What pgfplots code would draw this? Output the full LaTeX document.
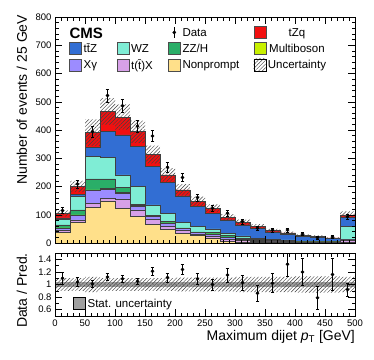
\documentclass[border=0pt]{standalone}
\usepackage{fontspec}
\setmainfont{Liberation Sans}
\usepackage{pgfplots}
\pgfplotsset{compat=1.18}
\usetikzlibrary{patterns.meta}

\definecolor{tzqred}{HTML}{F21010}
\definecolor{ttzblue}{HTML}{326ED3}
\definecolor{wzteal}{HTML}{7FEDD5}
\definecolor{zzgreen}{HTML}{2AAE68}
\definecolor{multib}{HTML}{C8F000}
\definecolor{xgam}{HTML}{9C8CFF}
\definecolor{ttx}{HTML}{D7A0E8}
\definecolor{nonpr}{HTML}{FFE08A}

\pgfplotsset{
  cmsax/.style={scale only axis, width=300pt, xmin=0, xmax=500,
    xtick distance=50, minor x tick num=4,
    major tick length=7pt, minor tick length=3.5pt,
    tick style={black, line width=0.5pt},
    axis line style={black, line width=0.6pt},
    tick label style={font=\fontsize{9.5}{10}\selectfont},
    /pgf/number format/assume math mode=true,
    label style={font=\fontsize{14}{14}\selectfont, inner sep=0pt},
    axis on top},
  stk/.style={const plot, draw=black!75, line width=0.5pt, fill=#1, forget plot},
  boxlegend/.style={legend image code/.code={\draw[##1] (0pt,-5.5pt) rectangle (12pt,6.5pt);}},
  nolegend/.style={legend image code/.code={\path[draw=none, fill=none] (0pt,-5.5pt) rectangle (12pt,6.5pt);}},
  hatch/.style={draw=none, forget plot, pattern={Lines[angle=45,distance=2.6pt,line width=0.45pt]}, pattern color=black!75},
}

\begin{document}
\begin{tikzpicture}
\path[use as bounding box] (0,0) rectangle (374pt,-359pt);

% ---- main panel ----
\begin{axis}[cmsax,
  at={(55pt,-243pt)}, anchor=south west, height=226pt,
  ymin=0, ymax=800, ytick distance=100, minor y tick num=4,
  xticklabels=\empty,
  ylabel={Number of events / 25 GeV},
  ylabel style={at={(axis description cs:-0.093,1.01)}, anchor=south east},
  legend columns=4,
  legend style={draw=none, fill=none, at={(axis description cs:0.037,0.969)}, anchor=north west,
    font=\fontsize{11.5}{13}\selectfont, row sep=2pt, column sep=0pt},
]
\addlegendimage{nolegend}\addlegendentry{\makebox[31pt][l]{}}
\addlegendimage{nolegend}\addlegendentry{\makebox[35pt][l]{}}
\addlegendimage{legend image code/.code={\draw[black, line width=0.6pt] (6pt,-5pt)--(6pt,6pt); \fill[black] (6pt,0.5pt) circle (1.6pt);}}\addlegendentry{\makebox[69pt][l]{Data}}
\addlegendimage{boxlegend, fill=tzqred, draw=black!70}\addlegendentry{tZq}
\addlegendimage{boxlegend, fill=ttzblue, draw=black!70}\addlegendentry{\makebox[31pt][l]{t\={t}Z}}
\addlegendimage{boxlegend, fill=wzteal, draw=black!70}\addlegendentry{\makebox[35pt][l]{WZ}}
\addlegendimage{boxlegend, fill=zzgreen, draw=black!70}\addlegendentry{\makebox[69pt][l]{ZZ/H}}
\addlegendimage{boxlegend, fill=multib, draw=black!70}\addlegendentry{Multiboson}
\addlegendimage{boxlegend, fill=xgam, draw=black!70}\addlegendentry{\makebox[31pt][l]{Xγ}}
\addlegendimage{boxlegend, fill=ttx, draw=black!70}\addlegendentry{\makebox[35pt][l]{t(\={t})X}}
\addlegendimage{boxlegend, fill=nonpr, draw=black!70}\addlegendentry{\makebox[69pt][l]{Nonprompt}}
\addlegendimage{boxlegend, draw=none, pattern={Lines[angle=45,distance=2.6pt,line width=0.45pt]}, pattern color=black!75}\addlegendentry{Uncertainty}

% cumulative stacks, drawn from the top layer down
\addplot[stk=tzqred] coordinates {(0,105)(25,200)(50,391)(75,466)(100,446)(125,394)(150,313)(175,241)(200,188)(225,148)(250,123)(275,92)(300,74)(325,60)(350,45)(375,36)(400,27)(425,24)(450,18)(475,100)(500,100)} \closedcycle;
\addplot[stk=ttzblue] coordinates {(0,89)(25,173)(50,338)(75,395)(100,383)(125,342)(150,271)(175,214)(200,167)(225,131)(250,105)(275,82)(300,64)(325,52)(350,39)(375,31)(400,24)(425,21)(450,16)(475,92)(500,92)} \closedcycle;
\addplot[stk=wzteal] coordinates {(0,84)(25,164)(50,306)(75,304)(100,241)(125,200)(150,135)(175,105)(200,72)(225,60)(250,50)(275,34)(300,25)(325,17)(350,13)(375,11)(400,7)(425,6)(450,6)(475,58)(500,58)} \closedcycle;
\addplot[stk=zzgreen] coordinates {(0,64)(25,117)(50,227)(75,227)(100,196)(125,138)(150,99)(175,76)(200,54)(225,39)(250,37)(275,26)(300,18)(325,12)(350,8)(375,7)(400,4)(425,4)(450,4)(475,13)(500,13)} \closedcycle;
\addplot[stk=multib] coordinates {(0,54)(25,100)(50,188)(75,193)(100,178)(125,132)(150,94)(175,71)(200,52)(225,38)(250,32)(275,21)(300,14)(325,10)(350,7)(375,6)(400,4)(425,4)(450,4)(475,12)(500,12)} \closedcycle;
\addplot[stk=xgam] coordinates {(0,53)(25,99)(50,186)(75,191)(100,176)(125,131)(150,93)(175,70)(200,51)(225,37)(250,31)(275,20)(300,13)(325,9)(350,6)(375,5)(400,3)(425,3)(450,3)(475,11)(500,11)} \closedcycle;
\addplot[stk=ttx] coordinates {(0,46)(25,82)(50,141)(75,158)(100,156)(125,117)(150,84)(175,61)(200,44)(225,32)(250,25)(275,14)(300,9)(325,6)(350,4)(375,3)(400,2)(425,2)(450,2)(475,8)(500,8)} \closedcycle;
\addplot[stk=nonpr] coordinates {(0,37)(25,72)(50,125)(75,149)(100,123)(125,93)(150,67)(175,48)(200,34)(225,26)(250,17)(275,7)(300,4)(325,3)(350,2)(375,1)(400,1)(425,1)(450,1)(475,2)(500,2)} \closedcycle;

% total uncertainty band
\addplot[hatch] coordinates {(0,115.5)(25,115.5)(25,220)(50,220)(50,437.9)(75,437.9)(75,512.6)(100,512.6)(100,490.6)(125,490.6)(125,433.4)(150,433.4)(150,344.3)(175,344.3)(175,265.1)(200,265.1)(200,208.7)(225,208.7)(225,164.3)(250,164.3)(250,136.5)(275,136.5)(275,102.1)(300,102.1)(300,82.9)(325,82.9)(325,67.2)(350,67.2)(350,50.4)(375,50.4)(375,40.3)(400,40.3)(400,30.5)(425,30.5)(425,27.1)(450,27.1)(450,20.3)(475,20.3)(475,112)(500,112)
 (500,88)(475,88)(475,15.7)(450,15.7)(450,20.9)(425,20.9)(425,23.5)(400,23.5)(400,31.7)(375,31.7)(375,39.6)(350,39.6)(350,52.8)(325,52.8)(325,65.1)(300,65.1)(300,81.9)(275,81.9)(275,109.5)(250,109.5)(250,131.7)(225,131.7)(225,167.3)(200,167.3)(200,216.9)(175,216.9)(175,281.7)(150,281.7)(150,354.6)(125,354.6)(125,401.4)(100,401.4)(100,419.4)(75,419.4)(75,344.1)(50,344.1)(50,180)(25,180)(25,94.5)(0,94.5)} --cycle;

% data
\addplot[only marks, mark=*, mark size=1.6pt, black, forget plot,
  error bars/.cd, y dir=both, y explicit, error bar style={line width=0.6pt},
  error mark options={rotate=90, mark size=1.8pt, line width=0.6pt}]
coordinates {
 (12.5,115) +- (0,10.7) (37.5,209) +- (0,14.5) (62.5,395) +- (0,19.9) (87.5,522) +- (0,22.8)
 (112.5,486) +- (0,22) (137.5,413) +- (0,20.3) (162.5,379) +- (0,19.5) (187.5,268) +- (0,16.4)
 (212.5,232) +- (0,15.2) (237.5,161) +- (0,12.7) (262.5,123) +- (0,11.1) (287.5,105) +- (0,10.2)
 (312.5,76) +- (0,8.7) (337.5,52) +- (0,7.2) (362.5,46) +- (0,6.8) (387.5,46) +- (0,6.8)
 (412.5,32) +- (0,5.7) (437.5,19) +- (0,4.4) (462.5,21) +- (0,4.6) (487.5,93) +- (0,9.6)
};

\node[anchor=west, font=\fontsize{15}{15}\selectfont\bfseries] at (axis description cs:0.037,0.929) {CMS};
\node[anchor=south east, inner sep=0pt, font=\fontsize{13}{13}\selectfont] at (axis description cs:1,1.012) {138 fb\textsuperscript{-1} (13 TeV)};
\end{axis}

% ---- ratio panel ----
\begin{axis}[cmsax,
  at={(55pt,-316pt)}, anchor=south west, height=63pt,
  ymin=0.5, ymax=1.5, ytick={0.6,0.8,1,1.2,1.4}, minor y tick num=1,
  xlabel={Maximum dijet \textit{p}\textsubscript{T} [GeV]},
  xlabel style={at={(axis description cs:1,-0.22)}, anchor=north east},
  ylabel={Data / Pred.},
  ylabel style={at={(axis description cs:-0.093,1)}, anchor=south east},
  legend style={draw=none, fill=none, at={(axis description cs:0.05,0.19)}, anchor=west,
    font=\fontsize{11.5}{13}\selectfont},
]
\addlegendimage{boxlegend, fill=gray!75, draw=none}\addlegendentry{Stat. uncertainty}
\addplot[fill=gray!75, draw=none, forget plot] coordinates {(0,0.965)(500,0.965)(500,1.035)(0,1.035)} --cycle;
\addplot[hatch] coordinates {(0,1.10)(50,1.10)(50,1.12)(75,1.12)(75,1.10)(200,1.10)(200,1.11)(300,1.11)(300,1.12)(400,1.12)(400,1.13)(475,1.13)(475,1.12)(500,1.12)
 (500,0.88)(475,0.88)(475,0.87)(400,0.87)(400,0.88)(300,0.88)(300,0.89)(200,0.89)(200,0.90)(75,0.90)(75,0.88)(50,0.88)(50,0.90)(0,0.90)} --cycle;
\addplot[gray, dashed, line width=0.5pt, forget plot] coordinates {(0,1)(500,1)};
\addplot[only marks, mark=*, mark size=1.6pt, black, forget plot,
  error bars/.cd, y dir=both, y explicit, error bar style={line width=0.6pt},
  error mark options={rotate=90, mark size=1.8pt, line width=0.6pt}]
coordinates {
 (12.5,1.10) +- (0,0.10) (37.5,1.04) +- (0,0.07) (62.5,1.01) +- (0,0.05) (87.5,1.12) +- (0,0.05)
 (112.5,1.09) +- (0,0.05) (137.5,1.05) +- (0,0.05) (162.5,1.21) +- (0,0.06) (187.5,1.11) +- (0,0.07)
 (212.5,1.24) +- (0,0.08) (237.5,1.09) +- (0,0.09) (262.5,1.00) +- (0,0.09) (287.5,1.15) +- (0,0.11)
 (312.5,1.03) +- (0,0.12) (337.5,0.86) +- (0,0.12) (362.5,1.02) +- (0,0.15) (387.5,1.32) +- (0,0.19)
 (412.5,1.20) +- (0,0.21) (437.5,0.79) +- (0,0.18) (462.5,1.16) +- (0,0.25) (487.5,0.92) +- (0,0.10)
};
\end{axis}
\end{tikzpicture}
\end{document}
